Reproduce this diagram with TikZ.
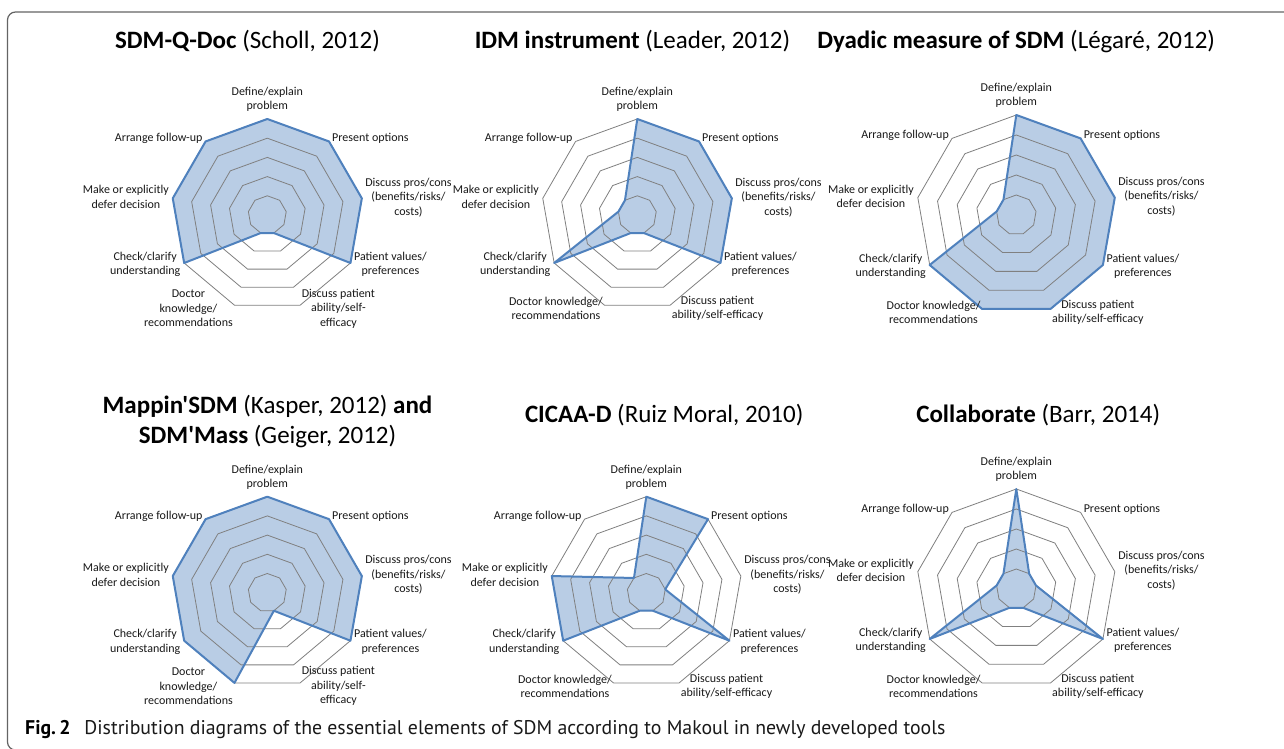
\documentclass[tikz,border=0pt]{standalone}
\usepackage{fontspec}
\setmainfont{Carlito}[Ligatures=TeXOff]
\newfontfamily\capfont{PT Sans}
\definecolor{datafill}{RGB}{185,205,229}
\definecolor{dataline}{RGB}{79,129,189}
\definecolor{gridcol}{RGB}{128,128,128}
\definecolor{framecol}{RGB}{100,100,100}
\tikzset{
  datafillstyle/.style={fill=datafill},
  datalinestyle/.style={draw=dataline, line width=2pt, line join=round},
  gridstyle/.style={draw=gridcol, line width=0.8pt},
  axlabel/.style={font=\fontsize{12}{14.5}\selectfont, align=center, inner sep=0pt, text=black!90},
  charttitle/.style={font=\fontsize{25}{30}\selectfont, inner sep=0pt, anchor=base},
  framestyle/.style={draw=framecol, line width=1.2pt, rounded corners=8pt},
}
% #1 name, #2 cx, #3 cy, #4 R, #5 first value, #6 other 8 values, #7 variant (3 or 2 lines)
\newcommand\radarplot[7]{%
\begin{scope}[shift={(#2,#3)}]
  \fill[datafillstyle] (90:{#5*#4/5}) \foreach \v [count=\k] in {#6} { -- ({90-40*\k}:{\v*#4/5}) } -- cycle;
  \foreach \j in {1,...,5} {
    \draw[gridstyle] (90:{\j*#4/5}) \foreach \k in {1,...,8} { -- ({90-40*\k}:{\j*#4/5}) } -- cycle;
  }
  \draw[datalinestyle] (90:{#5*#4/5}) \foreach \v [count=\k] in {#6} { -- ({90-40*\k}:{\v*#4/5}) } -- cycle;
  \node[axlabel] (#1-define) at (0,{#4+19.5}) {Define/explain\\problem};
  \node[axlabel, anchor=west] (#1-present) at ({#4*cos(50)+3},{#4*sin(50)+3.2}) {Present options};
  \node[axlabel, anchor=west] (#1-pros) at ({#4*cos(10)+3.3},{#4*sin(10)+1}) {Discuss pros/cons\\(benefits/risks/\\costs)};
  \node[axlabel, anchor=west] (#1-values) at ({#4*cos(30)+3.5},{-#4*sin(30)-1.3}) {Patient values/\\preferences};
  \node[axlabel, anchor=east] (#1-check) at ({-#4*cos(30)-3.6},{-#4*sin(30)-1.3}) {Check/clarify\\understanding};
  \node[axlabel, anchor=east] (#1-make) at ({-#4*cos(10)-3.8},{#4*sin(10)+1.3}) {Make or explicitly\\defer decision};
  \node[axlabel, anchor=east] (#1-arrange) at ({-#4*cos(50)-3},{#4*sin(50)+3.2}) {Arrange follow-up};
  \ifnum#7=3
    \node[axlabel, anchor=west] (#1-ability) at ({#4*cos(70)+1.5},{-#4*sin(70)-3.3}) {Discuss patient\\ability/self-\\efficacy};
    \node[axlabel, anchor=east] (#1-doctor) at ({-#4*cos(70)-1.5},{-#4*sin(70)-3.3}) {Doctor\\knowledge/\\recommendations};
  \else
    \node[axlabel, anchor=west] (#1-ability) at ({#4*cos(70)+1.5},{-#4*sin(70)-3.3}) {Discuss patient\\ability/self-efficacy};
    \node[axlabel, anchor=east] (#1-doctor) at ({-#4*cos(70)-1.5},{-#4*sin(70)-3.3}) {Doctor knowledge/\\recommendations};
  \fi
\end{scope}}
\begin{document}
\begin{tikzpicture}[x=1pt,y=1pt]
\useasboundingbox (0,0) rectangle (1284,749);
\fill[white] (0,0) rectangle (1284,749);
\draw[framestyle] (7.5,737) rectangle (1310,-1);

\radarplot{c1}{267.3}{534}{96}{5}{5,5,5,1,1,5,5,5}{3}
\radarplot{c2}{637.3}{534}{96}{5}{5,5,5,1,1,5,1,1}{2}
\radarplot{c3}{1016.3}{534}{100}{5}{5,5,5,5,5,5,1,1}{2}
\radarplot{c4}{267.3}{156.3}{96}{5}{5,5,5,1,5,5,5,5}{3}
\radarplot{c5}{646.3}{156.3}{96}{5}{5,1,5,1,1,5,5,1}{2}
\radarplot{c6}{1016.3}{160}{100}{5}{1,1,5,1,1,5,1,1}{2}

\node[charttitle] (t1) at (247.5,700) {\textbf{SDM-Q-Doc} (Scholl, 2012)};
\node[charttitle] (t2) at (632.5,700) {\textbf{IDM instrument} (Leader, 2012)};
\node[charttitle] (t3) at (1016.2,700) {\textbf{Dyadic measure of SDM} (Légaré, 2012)};
\node[charttitle] (t4a) at (267.5,335.7) {\textbf{Mappin'SDM} (Kasper, 2012) \textbf{and}};
\node[charttitle] (t4b) at (267.5,305) {\textbf{SDM'Mass} (Geiger, 2012)};
\node[charttitle] (t5) at (664.2,326.3) {\textbf{CICAA-D} (Ruiz Moral, 2010)};
\node[charttitle] (t6) at (1038.2,326.3) {\textbf{Collaborate} (Barr, 2014)};

\node[anchor=base west, inner sep=0pt, font=\capfont\fontsize{19.8}{23}\selectfont, text=black!90] (caption) at (25,14)
  {\textbf{\color{black}Fig.\,2}\hspace{0.7em}Distribution diagrams of the essential elements of SDM according to Makoul in newly developed tools};
\end{tikzpicture}
\end{document}
